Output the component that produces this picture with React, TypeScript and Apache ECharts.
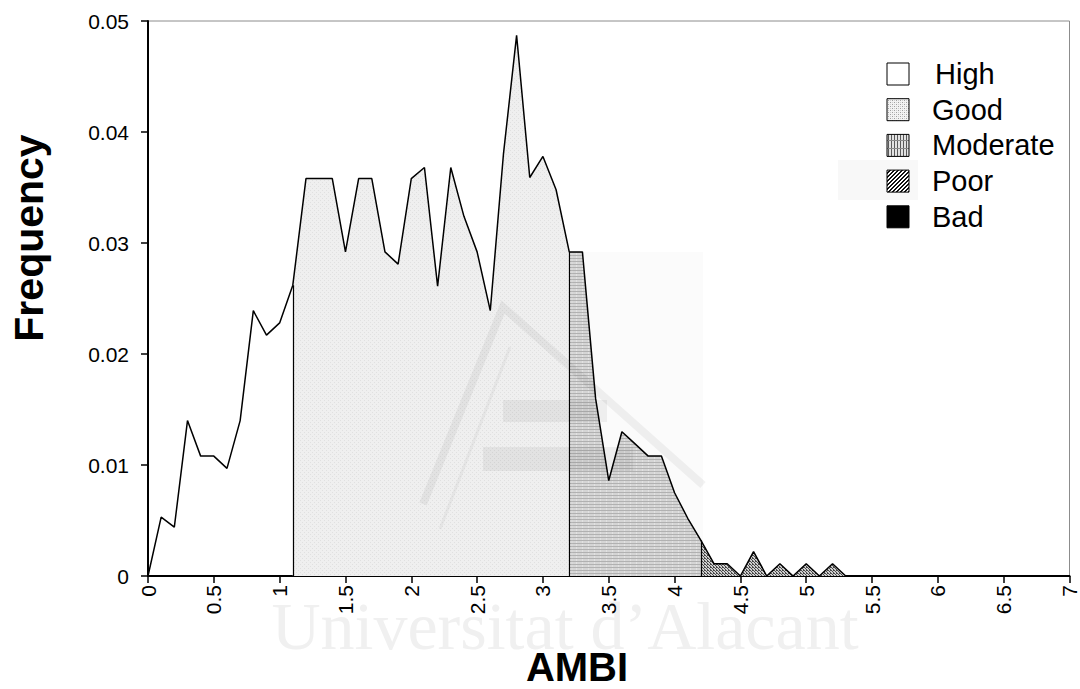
import React, { useEffect, useRef } from "react";
import * as echarts from "echarts";

// AMBI values (x) and their observed frequencies (y)
const ambi = [
  0, 0.1, 0.2, 0.3, 0.4, 0.5, 0.6, 0.7, 0.8, 0.9,
  1.0, 1.1, 1.2, 1.3, 1.4, 1.5, 1.6, 1.7, 1.8, 1.9,
  2.0, 2.1, 2.2, 2.3, 2.4, 2.5, 2.6, 2.7, 2.8, 2.9,
  3.0, 3.1, 3.2, 3.3, 3.4, 3.5, 3.6, 3.7, 3.8, 3.9,
  4.0, 4.1, 4.2, 4.3, 4.4, 4.5, 4.6, 4.7, 4.8, 4.9,
  5.0, 5.1, 5.2, 5.3, 7.0,
];
const freq = [
  0, 0.0053, 0.0044, 0.014, 0.0108, 0.0108, 0.0097, 0.014, 0.0239, 0.0217,
  0.0228, 0.0262, 0.0358, 0.0358, 0.0358, 0.0292, 0.0358, 0.0358, 0.0292, 0.0281,
  0.0358, 0.0368, 0.0261, 0.0368, 0.0324, 0.0292, 0.0239, 0.038, 0.0487, 0.0359,
  0.0378, 0.0348, 0.0292, 0.0292, 0.016, 0.0086, 0.013, 0.0119, 0.0108, 0.0108,
  0.0075, 0.0052, 0.0032, 0.0011, 0.0011, 0, 0.0022, 0, 0.0011, 0,
  0.0011, 0, 0.0011, 0, 0,
];
// Ecological status classes and the AMBI limits between them
const classNames = ["High", "Good", "Moderate", "Poor", "Bad"];
const classLimits = [1.1, 3.2, 4.2];

const xMin = 0;
const xMax = 7;
const xInterval = 0.5;
const yMin = 0;
const yMax = 0.05;
const yInterval = 0.01;

const FONT = 'Arial, "Liberation Sans", Helvetica, sans-serif';

function makePattern(w: number, h: number, draw: (ctx: CanvasRenderingContext2D) => void) {
  const c = document.createElement("canvas");
  c.width = w;
  c.height = h;
  const ctx = c.getContext("2d")!;
  draw(ctx);
  return { image: c, repeat: "repeat" } as any;
}

function px(ctx: CanvasRenderingContext2D, color: string, cells: number[][]) {
  ctx.fillStyle = color;
  cells.forEach(([x, y]) => ctx.fillRect(x, y, 1, 1));
}

export default function App() {
  const ref = useRef<HTMLDivElement>(null);

  useEffect(() => {
    if (!ref.current) return;
    const chart = echarts.init(ref.current, null, { renderer: "svg" });

    const pts = ambi.map((x, i) => [x, freq[i]]);
    const eps = 1e-9;
    const between = (lo: number, hi: number) =>
      pts.filter((p) => p[0] >= lo - eps && p[0] <= hi + eps);
    const goodPts = between(classLimits[0], classLimits[1]);
    const moderatePts = between(classLimits[1], classLimits[2]);
    const poorPts = between(classLimits[2], xMax);
    const valueAt = (x: number) => {
      const i = ambi.findIndex((a) => Math.abs(a - x) < eps);
      return i >= 0 ? freq[i] : 0;
    };

    // area fills
    const goodFill = makePattern(4, 4, (ctx) => {
      ctx.fillStyle = "#efefef";
      ctx.fillRect(0, 0, 4, 4);
      px(ctx, "#e0e0e0", [[0, 0], [2, 2]]);
    });
    const moderateFill = makePattern(6, 3, (ctx) => {
      ctx.fillStyle = "#d9d9d9";
      ctx.fillRect(0, 0, 6, 3);
      ctx.fillStyle = "#b4b4b4";
      ctx.fillRect(0, 0, 6, 1);
      ctx.fillStyle = "#e6e6e6";
      ctx.fillRect(0, 1, 1, 2);
    });
    const poorFill = makePattern(3, 3, (ctx) => {
      ctx.fillStyle = "#cfcfcf";
      ctx.fillRect(0, 0, 3, 3);
      px(ctx, "#4a4a4a", [[0, 0], [1, 1], [2, 2], [2, 0]]);
    });

    // legend swatches
    const goodSwatch = makePattern(4, 4, (ctx) => {
      ctx.fillStyle = "#f3f3f3";
      ctx.fillRect(0, 0, 4, 4);
      px(ctx, "#a0a0a0", [[0, 0], [2, 2]]);
      px(ctx, "#cfcfcf", [[2, 0], [0, 2]]);
    });
    const moderateSwatch = makePattern(3, 8, (ctx) => {
      ctx.fillStyle = "#e2e2e2";
      ctx.fillRect(0, 0, 3, 8);
      ctx.fillStyle = "#5a5a5a";
      ctx.fillRect(0, 0, 1, 8);
      ctx.fillStyle = "#8a8a8a";
      ctx.fillRect(0, 4, 3, 1);
    });
    const poorSwatch = makePattern(4, 4, (ctx) => {
      ctx.fillStyle = "#ffffff";
      ctx.fillRect(0, 0, 4, 4);
      px(ctx, "#111111", [[3, 0], [2, 1], [1, 2], [0, 3], [0, 0], [3, 1], [2, 2], [1, 3]]);
    });

    const swatchFills = ["#ffffff", goodSwatch, moderateSwatch, poorSwatch, "#000000"];
    const legendX = 887;
    const legendTop = 63;
    const legendStep = 35.7;

    const legendGraphics: any[] = [];
    classNames.forEach((name, i) => {
      const top = legendTop + i * legendStep;
      legendGraphics.push({
        type: "rect",
        z: 20,
        shape: { x: legendX, y: top, width: 22, height: 22 },
        style: {
          fill: swatchFills[i],
          stroke: "#000",
          lineWidth: 1,
        },
      });
      legendGraphics.push({
        type: "text",
        z: 20,
        x: i === 0 ? 935 : 932,
        y: top + 11,
        style: {
          text: name,
          font: `29px ${FONT}`,
          fill: "#000",
          align: "left",
          verticalAlign: "middle",
          textAlign: "left",
          textVerticalAlign: "middle",
        },
      });
    });

    const watermark: any[] = [
      {
        type: "text",
        z: -5,
        x: 565,
        y: 626,
        style: {
          text: "Universitat d\u2019Alacant",
          font: `68px "Liberation Serif", "Times New Roman", serif`,
          fill: "#f0f0f0",
          align: "center",
          verticalAlign: "middle",
          textAlign: "center",
          textVerticalAlign: "middle",
        },
      },
      {
        type: "rect",
        z: -5,
        shape: { x: 838, y: 160, width: 80, height: 40 },
        style: { fill: "#f8f8f8" },
      },
      {
        type: "rect",
        z: 8,
        silent: true,
        shape: { x: 573, y: 252, width: 130, height: 324 },
        style: { fill: "rgba(0,0,0,0.015)" },
      },
      {
        type: "polyline",
        z: 8,
        silent: true,
        shape: { points: [[423, 504], [503, 307], [703, 485]] },
        style: { stroke: "rgba(0,0,0,0.05)", lineWidth: 8, fill: "none" },
      },
      {
        type: "line",
        z: 8,
        silent: true,
        shape: { x1: 510, y1: 347, x2: 440, y2: 529 },
        style: { stroke: "rgba(0,0,0,0.04)", lineWidth: 3 },
      },
      {
        type: "rect",
        z: 8,
        silent: true,
        shape: { x: 503, y: 400, width: 104, height: 22 },
        style: { fill: "rgba(0,0,0,0.05)" },
      },
      {
        type: "rect",
        z: 8,
        silent: true,
        shape: { x: 483, y: 447, width: 150, height: 24 },
        style: { fill: "rgba(0,0,0,0.05)" },
      },
    ];

    const titles: any[] = [
      {
        type: "text",
        z: 20,
        x: 29,
        y: 238,
        rotation: Math.PI / 2,
        style: {
          text: "Frequency",
          font: `bold 41px ${FONT}`,
          fill: "#000",
          align: "center",
          verticalAlign: "middle",
          textAlign: "center",
          textVerticalAlign: "middle",
        },
      },
      {
        type: "text",
        z: 20,
        x: 577,
        y: 667,
        style: {
          text: "AMBI",
          font: `bold 40px ${FONT}`,
          fill: "#000",
          align: "center",
          verticalAlign: "middle",
          textAlign: "center",
          textVerticalAlign: "middle",
        },
      },
    ];

    const areaSeries = (data: number[][], fill: any) => ({
      type: "line",
      data,
      symbol: "none",
      silent: true,
      z: 1,
      lineStyle: { width: 0, opacity: 0 },
      areaStyle: { color: fill, opacity: 1 },
    });

    chart.setOption({
      animation: false,
      backgroundColor: "#ffffff",
      grid: {
        left: 148,
        right: 4,
        top: 21,
        bottom: 113,
        show: true,
        borderColor: "#8c8c8c",
        borderWidth: 1,
        backgroundColor: "transparent",
      },
      xAxis: {
        type: "value",
        min: xMin,
        max: xMax,
        interval: xInterval,
        axisLine: { show: true, onZero: false, lineStyle: { color: "#000", width: 2 } },
        axisTick: { show: true, length: 7, lineStyle: { color: "#000", width: 1.5 } },
        axisLabel: {
          rotate: 90,
          margin: 9,
          color: "#000",
          fontSize: 21,
          fontFamily: FONT,
          showMaxLabel: true,
          showMinLabel: true,
        },
        splitLine: { show: false },
      },
      yAxis: {
        type: "value",
        min: yMin,
        max: yMax,
        interval: yInterval,
        axisLine: { show: true, lineStyle: { color: "#000", width: 2 } },
        axisTick: { show: true, length: 7, lineStyle: { color: "#000", width: 1.5 } },
        axisLabel: {
          margin: 19,
          color: "#000",
          fontSize: 21,
          fontFamily: FONT,
        },
        splitLine: { show: false },
      },
      graphic: { elements: [...watermark, ...legendGraphics, ...titles] },
      series: [
        areaSeries(goodPts, goodFill),
        areaSeries(moderatePts, moderateFill),
        areaSeries(poorPts, poorFill),
        {
          type: "line",
          data: pts,
          symbol: "none",
          silent: true,
          z: 5,
          lineStyle: { color: "#000", width: 1.5 },
          markLine: {
            silent: true,
            symbol: ["none", "none"],
            label: { show: false },
            lineStyle: { color: "#000", width: 1.2, type: "solid" },
            data: classLimits.map((b) => [
              { coord: [b, 0] },
              { coord: [b, valueAt(b)] },
            ]),
          },
        },
      ],
    });

    return () => chart.dispose();
  }, []);

  return (
    <div
      ref={ref}
      style={{ position: "absolute", left: 0, top: 0, width: 1080, height: 689 }}
    />
  );
}
